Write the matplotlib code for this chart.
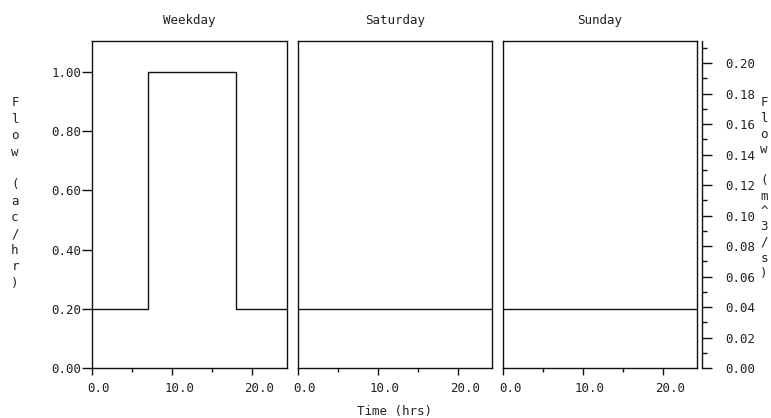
import matplotlib
matplotlib.use("Agg")
import matplotlib.pyplot as plt
from matplotlib.ticker import MultipleLocator, FormatStrFormatter
import matplotlib.transforms as mtransforms

# ---- data ----
panels = ["Weekday", "Saturday", "Sunday"]
weekday_t = [0, 7, 18, 24.3]
weekday_v = [0.2, 1.0, 0.2, 0.2]
saturday_t = [0, 24.3]
saturday_v = [0.2, 0.2]
sunday_t = [0, 24.3]
sunday_v = [0.2, 0.2]
left_ticks = [0.0, 0.2, 0.4, 0.6, 0.8, 1.0]
right_ticks = [0.00, 0.02, 0.04, 0.06, 0.08, 0.10, 0.12, 0.14, 0.16, 0.18, 0.20]
x_ticks = [0, 10, 20]
left_label = "Flow (ac/hr)"
right_label = "Flow (m^3/s)"
x_label = "Time (hrs)"

W, H = 771, 418
FONT = "DejaVu Sans Mono"
FS = 9
TC = "#222222"
LC = "#111111"
LW = 1.0

plt.rcParams["font.family"] = FONT
fig = plt.figure(figsize=(W / 100, H / 100), dpi=100)

lefts = [92, 298, 503]
widths = [195, 194, 194]
top, bottom = 41, 368
series = [(weekday_t, weekday_v), (saturday_t, saturday_v), (sunday_t, sunday_v)]
axes = []
for i, (l, w) in enumerate(zip(lefts, widths)):
    ax = fig.add_axes([l / W, (H - bottom) / H, w / W, (bottom - top) / H])
    t, v = series[i]
    ax.plot(t, v, drawstyle="steps-post", color=LC, lw=LW)
    ax.set_xlim(0, 24.3)
    ax.set_ylim(0, 1.105)
    for s in ax.spines.values():
        s.set_linewidth(LW)
        s.set_color(LC)
    ax.xaxis.set_major_locator(MultipleLocator(10))
    ax.xaxis.set_minor_locator(MultipleLocator(5))
    ax.xaxis.set_major_formatter(FormatStrFormatter("%.1f"))
    ax.tick_params(axis="x", which="major", direction="out", length=5, width=LW,
                   color=LC, labelsize=FS, labelcolor=TC, pad=5, top=False)
    ax.tick_params(axis="x", which="minor", direction="out", length=3, width=LW,
                   color=LC, top=False)
    off = mtransforms.ScaledTranslation(7 / 100, 0, fig.dpi_scale_trans)
    for lab in ax.get_xticklabels():
        lab.set_transform(lab.get_transform() + off)
    if i == 0:
        ax.set_yticks(left_ticks)
        ax.yaxis.set_major_formatter(FormatStrFormatter("%.2f"))
        ax.tick_params(axis="y", direction="out", length=7.2, width=LW, color=LC,
                       labelsize=FS, labelcolor=TC, pad=0.5, right=False)
    else:
        ax.set_yticks([])
    ax.set_title(panels[i], fontsize=FS, color=TC, pad=12)
    axes.append(ax)

# right axis
axr = axes[2].twinx()
axr.set_ylim(0, 0.2145)
for k in ["top", "left", "bottom"]:
    axr.spines[k].set_visible(False)
axr.spines["right"].set_position(("outward", 3.6))
axr.spines["right"].set_linewidth(LW)
axr.spines["right"].set_color(LC)
axr.set_yticks(right_ticks)
axr.yaxis.set_minor_locator(MultipleLocator(0.01))
axr.yaxis.set_major_formatter(FormatStrFormatter("%.2f"))
axr.tick_params(axis="y", which="major", direction="out", length=7.2, width=LW,
                color=LC, labelsize=FS, labelcolor=TC, pad=9.4)
axr.tick_params(axis="y", which="minor", direction="out", length=3.6, width=LW,
                color=LC)

# stacked axis labels
def stacked(text, xc, y0, step):
    for j, ch in enumerate(text):
        if ch == " ":
            continue
        fig.text(xc / W, 1 - (y0 + j * step) / H, ch, ha="center", va="center",
                 fontsize=FS, color=TC)

stacked(left_label, 15, 103, 16.4)
stacked(right_label, 764, 103, 15.5)

fig.text(395 / W, 1 - 411 / H, x_label, ha="center", va="center",
         fontsize=FS, color=TC)

fig.savefig("out.png", dpi=100)
